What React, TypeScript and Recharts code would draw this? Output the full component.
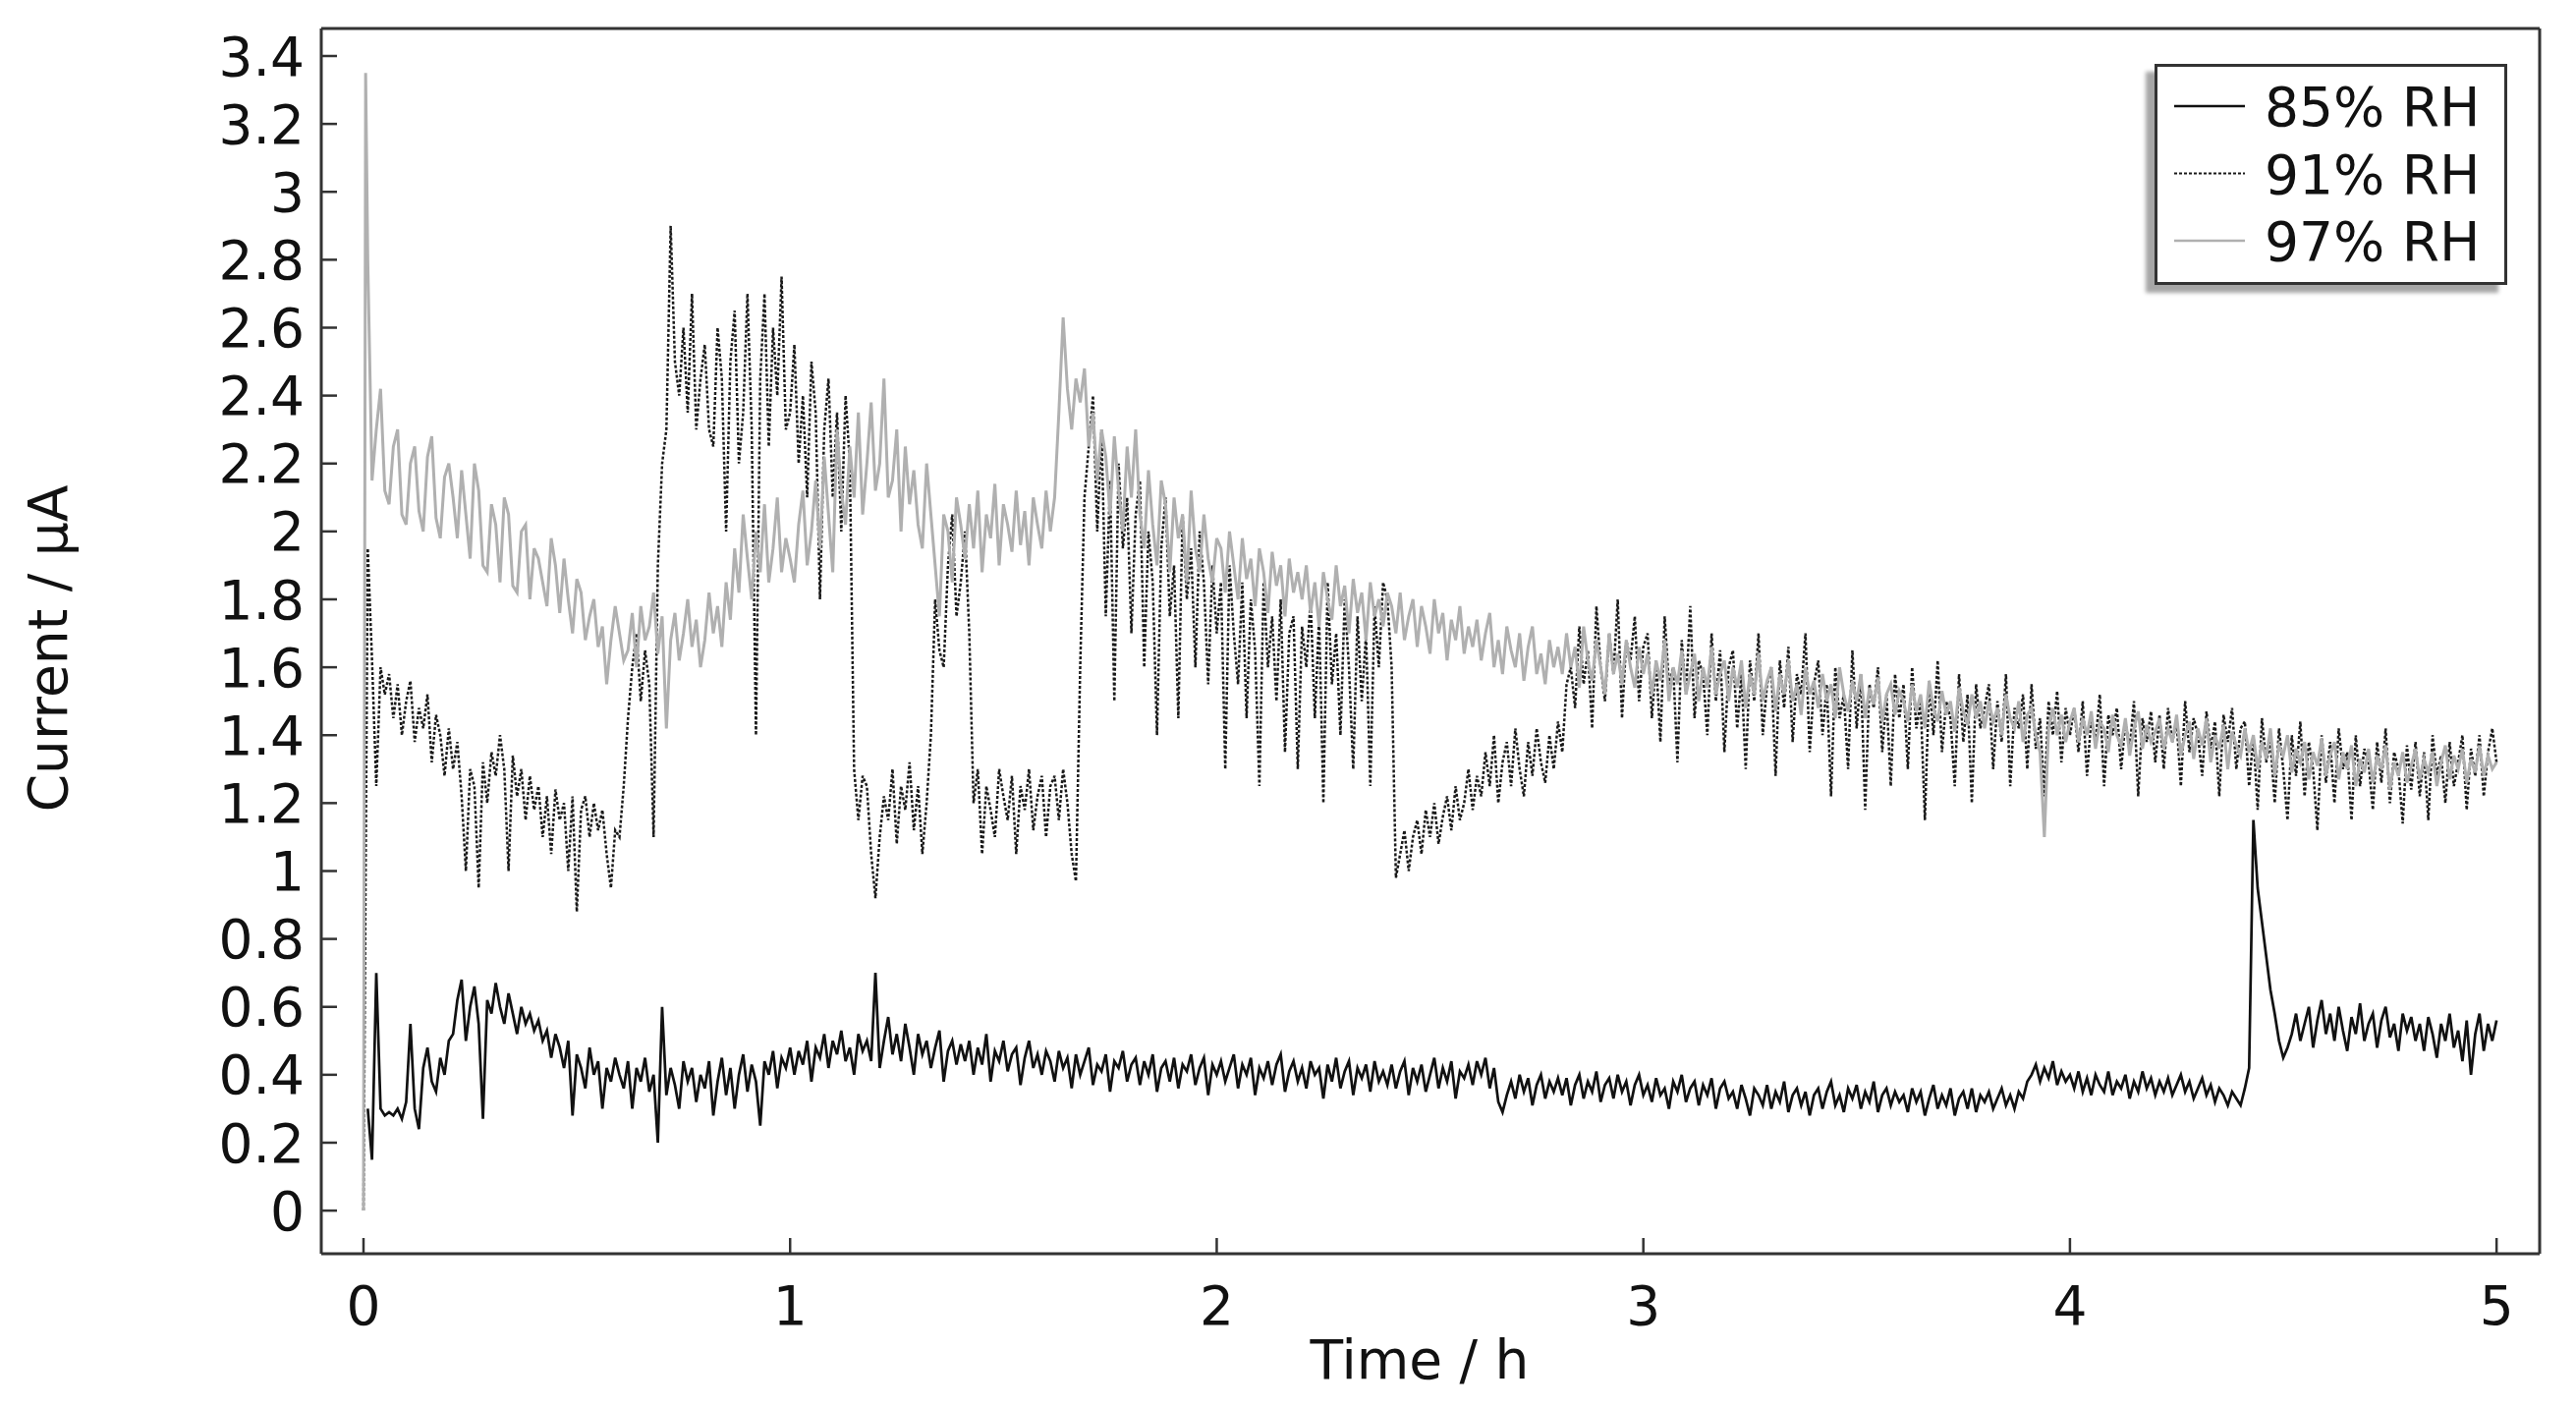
import React from 'react';
import { LineChart, Line, XAxis, YAxis, Legend } from 'recharts';

// sampling times in hours: the start-up spike, then one reading every 0.01 h
const startTimes = [0, 0.005];
const gridTimes = Array.from({ length: 500 }, (_, i) => Number(((i + 1) * 0.01).toFixed(2)));
const time = [...startTimes, ...gridTimes];

// current in µA, one row per 0.2 h (20 readings)
const rh85 = [
  null, null,
  0.3, 0.15, 0.7, 0.3, 0.28, 0.29, 0.28, 0.3, 0.27, 0.32, 0.55, 0.3, 0.24, 0.42, 0.48, 0.38, 0.35, 0.45, 0.4, 0.5,
  0.52, 0.62, 0.68, 0.5, 0.6, 0.66, 0.55, 0.27, 0.62, 0.58, 0.67, 0.6, 0.55, 0.64, 0.58, 0.52, 0.6, 0.55, 0.58, 0.53,
  0.56, 0.5, 0.53, 0.45, 0.52, 0.48, 0.42, 0.5, 0.28, 0.46, 0.42, 0.36, 0.48, 0.4, 0.44, 0.3, 0.42, 0.38, 0.45, 0.4,
  0.36, 0.44, 0.3, 0.42, 0.38, 0.45, 0.35, 0.4, 0.2, 0.6, 0.34, 0.42, 0.37, 0.3, 0.44, 0.38, 0.42, 0.32, 0.4, 0.36,
  0.44, 0.28, 0.38, 0.45, 0.34, 0.42, 0.3, 0.4, 0.46, 0.35, 0.43, 0.38, 0.25, 0.44, 0.4, 0.47, 0.36, 0.45, 0.42, 0.48,
  0.4, 0.47, 0.43, 0.5, 0.38, 0.48, 0.45, 0.52, 0.42, 0.5, 0.46, 0.53, 0.44, 0.48, 0.4, 0.52, 0.47, 0.5, 0.44, 0.7,
  0.42, 0.5, 0.57, 0.46, 0.52, 0.44, 0.55, 0.48, 0.4, 0.52, 0.46, 0.5, 0.42, 0.48, 0.53, 0.38, 0.47, 0.5, 0.43, 0.49,
  0.44, 0.5, 0.4, 0.48, 0.43, 0.52, 0.38, 0.47, 0.44, 0.5, 0.41, 0.46, 0.48, 0.37, 0.45, 0.5, 0.42, 0.46, 0.4, 0.47,
  0.44, 0.38, 0.47, 0.42, 0.45, 0.36, 0.46, 0.4, 0.44, 0.48, 0.37, 0.43, 0.41, 0.46, 0.35, 0.44, 0.42, 0.47, 0.38, 0.43,
  0.45, 0.37, 0.44, 0.4, 0.46, 0.35, 0.42, 0.44, 0.38, 0.45, 0.36, 0.43, 0.41, 0.46, 0.37, 0.42, 0.45, 0.34, 0.43, 0.4,
  0.44, 0.38, 0.42, 0.46, 0.36, 0.43, 0.4, 0.45, 0.34, 0.42, 0.39, 0.44, 0.37, 0.43, 0.46, 0.35, 0.41, 0.44, 0.38, 0.42,
  0.36, 0.44, 0.4, 0.42, 0.33, 0.43, 0.38, 0.45, 0.36, 0.41, 0.44, 0.34, 0.42, 0.39, 0.43, 0.35, 0.44, 0.38, 0.41, 0.37,
  0.43, 0.36, 0.41, 0.44, 0.34, 0.42, 0.38, 0.43, 0.35, 0.4, 0.45, 0.36, 0.42, 0.38, 0.44, 0.33, 0.41, 0.39, 0.43, 0.37,
  0.44, 0.4, 0.45, 0.36, 0.42, 0.32, 0.29, 0.34, 0.38, 0.33, 0.4, 0.35, 0.39, 0.31, 0.37, 0.4, 0.33, 0.38, 0.35, 0.39,
  0.34, 0.39, 0.31, 0.37, 0.4, 0.33, 0.38, 0.35, 0.41, 0.32, 0.37, 0.39, 0.33, 0.4, 0.35, 0.38, 0.31, 0.37, 0.4, 0.34,
  0.37, 0.32, 0.39, 0.34, 0.36, 0.3, 0.38, 0.35, 0.4, 0.32, 0.36, 0.38, 0.31, 0.37, 0.34, 0.39, 0.3, 0.36, 0.38, 0.33,
  0.35, 0.3, 0.37, 0.33, 0.28, 0.36, 0.34, 0.31, 0.37, 0.3, 0.35, 0.32, 0.38, 0.29, 0.34, 0.36, 0.31, 0.35, 0.28, 0.34,
  0.36, 0.3, 0.35, 0.38, 0.31, 0.34, 0.29, 0.36, 0.33, 0.37, 0.3, 0.35, 0.32, 0.38, 0.29, 0.34, 0.36, 0.31, 0.35, 0.32,
  0.34, 0.29, 0.36, 0.32, 0.35, 0.28, 0.33, 0.37, 0.3, 0.34, 0.31, 0.36, 0.28, 0.33, 0.35, 0.3, 0.36, 0.29, 0.34, 0.32,
  0.35, 0.3, 0.33, 0.36, 0.31, 0.34, 0.3, 0.35, 0.33, 0.38, 0.4, 0.43, 0.38, 0.42, 0.39, 0.44, 0.37, 0.41, 0.38, 0.4,
  0.36, 0.41, 0.35, 0.39, 0.34, 0.4, 0.37, 0.35, 0.41, 0.34, 0.38, 0.36, 0.4, 0.33, 0.38, 0.35, 0.41, 0.36, 0.39, 0.34,
  0.38, 0.35, 0.39, 0.34, 0.37, 0.4, 0.35, 0.38, 0.33, 0.36, 0.39, 0.34, 0.37, 0.32, 0.36, 0.34, 0.31, 0.35, 0.33, 0.31,
  0.36, 0.42, 1.15, 0.95, 0.85, 0.75, 0.65, 0.58, 0.5, 0.45, 0.48, 0.52, 0.58, 0.5, 0.55, 0.6, 0.48, 0.56, 0.62, 0.52,
  0.58, 0.5, 0.6, 0.53, 0.47, 0.57, 0.52, 0.61, 0.5, 0.55, 0.58, 0.48, 0.56, 0.6, 0.51, 0.55, 0.47, 0.58, 0.53, 0.57,
  0.5, 0.55, 0.47, 0.57, 0.52, 0.45, 0.55, 0.5, 0.58, 0.48, 0.53, 0.44, 0.56, 0.4, 0.52, 0.58, 0.47, 0.55, 0.5, 0.56,
];

const rh91 = [
  0, 1.0,
  1.95, 1.62, 1.25, 1.6, 1.52, 1.58, 1.45, 1.55, 1.4, 1.5, 1.56, 1.38, 1.48, 1.42, 1.52, 1.32, 1.46, 1.4, 1.28, 1.42,
  1.3, 1.38, 1.22, 1.0, 1.3, 1.25, 0.95, 1.32, 1.2, 1.35, 1.28, 1.4, 1.3, 1.0, 1.34, 1.22, 1.3, 1.15, 1.28, 1.18,
  1.25, 1.1, 1.22, 1.05, 1.24, 1.15, 1.2, 1.0, 1.22, 0.88, 1.18, 1.22, 1.1, 1.2, 1.12, 1.18, 1.05, 0.95, 1.12, 1.1,
  1.25, 1.45, 1.6, 1.7, 1.5, 1.65, 1.55, 1.1, 1.9, 2.2, 2.3, 2.9, 2.5, 2.4, 2.6, 2.35, 2.7, 2.3, 2.45, 2.55,
  2.3, 2.25, 2.6, 2.45, 2.0, 2.5, 2.65, 2.2, 2.35, 2.7, 2.3, 1.4, 2.45, 2.7, 2.25, 2.6, 2.4, 2.75, 2.3, 2.35,
  2.55, 2.2, 2.4, 2.1, 2.5, 2.35, 1.8, 2.3, 2.45, 2.1, 2.35, 2.0, 2.4, 2.2, 1.3, 1.15, 1.28, 1.25, 1.05, 0.92,
  1.1, 1.22, 1.15, 1.3, 1.08, 1.25, 1.18, 1.32, 1.12, 1.25, 1.05, 1.2, 1.4, 1.8, 1.65, 1.6, 1.9, 2.05, 1.75, 1.85,
  2.0, 1.7, 1.2, 1.3, 1.05, 1.25, 1.18, 1.1, 1.3, 1.22, 1.15, 1.28, 1.05, 1.25, 1.18, 1.3, 1.12, 1.22, 1.28, 1.1,
  1.25, 1.28, 1.15, 1.3, 1.2, 1.05, 0.97, 1.6, 2.1, 2.25, 2.4, 2.0, 2.3, 1.75, 2.15, 1.5, 2.2, 1.95, 2.1, 1.7,
  2.05, 2.15, 1.6, 2.0, 1.85, 1.4, 1.95, 2.1, 1.75, 1.9, 1.45, 2.05, 1.8, 1.95, 1.6, 2.0, 1.85, 1.55, 1.9, 1.7,
  1.85, 1.3, 1.9, 1.7, 1.55, 1.85, 1.45, 1.8, 1.65, 1.25, 1.85, 1.6, 1.75, 1.5, 1.8, 1.35, 1.7, 1.75, 1.3, 1.72,
  1.6, 1.8, 1.45, 1.75, 1.2, 1.85, 1.55, 1.7, 1.4, 1.8, 1.6, 1.3, 1.75, 1.5, 1.7, 1.25, 1.78, 1.6, 1.85, 1.8,
  1.6, 0.98, 1.05, 1.12, 1.0, 1.1, 1.15, 1.05, 1.18, 1.1, 1.2, 1.08, 1.16, 1.22, 1.12, 1.25, 1.15, 1.2, 1.3, 1.18,
  1.28, 1.22, 1.35, 1.25, 1.4, 1.2, 1.32, 1.38, 1.25, 1.42, 1.3, 1.22, 1.38, 1.28, 1.42, 1.32, 1.26, 1.4, 1.3, 1.44,
  1.35, 1.55, 1.6, 1.48, 1.72, 1.55, 1.65, 1.42, 1.78, 1.6, 1.5, 1.7, 1.58, 1.8, 1.45, 1.68, 1.62, 1.75, 1.5, 1.66,
  1.7, 1.45, 1.62, 1.38, 1.75, 1.55, 1.6, 1.32, 1.68, 1.52, 1.78, 1.45, 1.62, 1.58, 1.4, 1.7, 1.5, 1.65, 1.35, 1.6,
  1.65, 1.42, 1.58, 1.3, 1.62, 1.5, 1.7, 1.4, 1.55, 1.6, 1.28, 1.62, 1.48, 1.66, 1.38, 1.58, 1.52, 1.7, 1.35, 1.55,
  1.62, 1.4, 1.55, 1.22, 1.6, 1.45, 1.52, 1.3, 1.65, 1.42, 1.58, 1.18, 1.55, 1.48, 1.6, 1.35, 1.52, 1.25, 1.58, 1.45,
  1.55, 1.3, 1.6, 1.42, 1.5, 1.15, 1.56, 1.4, 1.62, 1.35, 1.5, 1.45, 1.25, 1.58, 1.38, 1.52, 1.2, 1.55, 1.42, 1.48,
  1.55, 1.3, 1.5, 1.38, 1.58, 1.25, 1.48, 1.42, 1.52, 1.3, 1.55, 1.36, 1.45, 1.22, 1.5, 1.4, 1.53, 1.32, 1.48, 1.4,
  1.48, 1.35, 1.5, 1.28, 1.45, 1.38, 1.52, 1.25, 1.46, 1.4, 1.48, 1.3, 1.44, 1.36, 1.5, 1.22, 1.45, 1.38, 1.47, 1.32,
  1.46, 1.3, 1.48, 1.38, 1.44, 1.25, 1.5, 1.35, 1.45, 1.4, 1.28, 1.47, 1.36, 1.44, 1.22, 1.46, 1.38, 1.48, 1.3, 1.42,
  1.44, 1.25, 1.4, 1.18, 1.45, 1.32, 1.38, 1.2, 1.42, 1.3, 1.15, 1.4, 1.28, 1.44, 1.22, 1.38, 1.3, 1.12, 1.4, 1.26,
  1.38, 1.2, 1.42, 1.3, 1.35, 1.15, 1.4, 1.25, 1.36, 1.32, 1.18, 1.38, 1.26, 1.42, 1.2, 1.35, 1.3, 1.14, 1.37, 1.24,
  1.38, 1.22, 1.35, 1.15, 1.4, 1.28, 1.34, 1.2, 1.38, 1.25, 1.32, 1.4, 1.18, 1.36, 1.28, 1.4, 1.22, 1.35, 1.42, 1.32,
];

const rh97 = [
  0, 3.35,
  2.8, 2.15, 2.3, 2.42, 2.12, 2.08, 2.25, 2.3, 2.05, 2.02, 2.2, 2.25, 2.06, 2.0, 2.22, 2.28, 2.04, 1.98, 2.16, 2.2,
  2.1, 1.98, 2.18, 2.05, 1.92, 2.2, 2.12, 1.9, 1.88, 2.08, 2.02, 1.85, 2.1, 2.05, 1.84, 1.82, 2.0, 2.02, 1.8, 1.95,
  1.92, 1.85, 1.78, 1.98, 1.9, 1.76, 1.92, 1.8, 1.7, 1.86, 1.82, 1.68, 1.75, 1.8, 1.66, 1.72, 1.55, 1.68, 1.78, 1.7,
  1.62, 1.65, 1.76, 1.6, 1.78, 1.68, 1.72, 1.82, 1.64, 1.75, 1.42, 1.68, 1.76, 1.62, 1.7, 1.8, 1.66, 1.74, 1.6, 1.68,
  1.82, 1.7, 1.78, 1.66, 1.85, 1.74, 1.95, 1.82, 2.05, 1.92, 1.8, 2.0, 1.88, 2.08, 1.85, 1.95, 2.1, 1.88, 1.98, 1.92,
  1.85, 2.02, 2.12, 1.9, 2.0, 2.15, 1.95, 2.22, 2.05, 1.88, 2.3, 2.12, 2.02, 2.25, 2.1, 2.35, 2.05, 2.2, 2.38, 2.12,
  2.2, 2.45, 2.1, 2.15, 2.3, 2.0, 2.25, 2.08, 2.18, 2.02, 1.95, 2.2, 2.05, 1.9, 1.75, 2.05, 2.0, 1.85, 2.1, 2.02,
  1.92, 2.08, 1.95, 2.12, 1.88, 2.05, 1.98, 2.14, 1.9, 2.08, 2.02, 1.94, 2.12, 1.96, 2.06, 1.9, 2.1, 2.02, 1.95, 2.12,
  2.0, 2.1, 2.35, 2.63, 2.42, 2.3, 2.45, 2.38, 2.48, 2.25, 2.35, 2.15, 2.3, 2.22, 2.05, 2.28, 2.12, 2.0, 2.25, 2.1,
  2.3, 2.05, 1.95, 2.18, 2.02, 1.9, 2.15, 2.08, 1.88, 2.1, 1.98, 2.05, 1.85, 2.12, 1.95, 1.88, 2.05, 1.92, 1.85, 1.98,
  1.95, 1.82, 2.0, 1.9, 1.8, 1.98, 1.86, 1.92, 1.78, 1.95, 1.88, 1.76, 1.94, 1.84, 1.9, 1.75, 1.92, 1.82, 1.88, 1.8,
  1.9, 1.76, 1.85, 1.72, 1.88, 1.8, 1.74, 1.9, 1.78, 1.84, 1.7, 1.86, 1.76, 1.82, 1.68, 1.85, 1.75, 1.8, 1.72, 1.82,
  1.78, 1.7, 1.82, 1.68, 1.75, 1.8, 1.66, 1.78, 1.72, 1.64, 1.8, 1.7, 1.76, 1.62, 1.74, 1.68, 1.78, 1.64, 1.72, 1.66,
  1.74, 1.62, 1.7, 1.76, 1.6, 1.68, 1.58, 1.72, 1.65, 1.6, 1.7, 1.56, 1.66, 1.72, 1.58, 1.64, 1.55, 1.68, 1.6, 1.66,
  1.58, 1.7, 1.6, 1.66, 1.54, 1.72, 1.62, 1.56, 1.68, 1.6, 1.52, 1.7, 1.58, 1.64, 1.55, 1.68, 1.6, 1.54, 1.66, 1.58,
  1.64, 1.52, 1.62, 1.56, 1.68, 1.5, 1.6, 1.55, 1.65, 1.52, 1.58, 1.64, 1.5, 1.6, 1.54, 1.66, 1.52, 1.58, 1.62, 1.5,
  1.6, 1.54, 1.62, 1.48, 1.58, 1.52, 1.64, 1.5, 1.56, 1.6, 1.47, 1.58, 1.52, 1.62, 1.5, 1.55, 1.46, 1.6, 1.52, 1.56,
  1.48, 1.58, 1.5, 1.55, 1.45, 1.6, 1.52, 1.47, 1.56, 1.5, 1.58, 1.45, 1.54, 1.49, 1.57, 1.44, 1.52, 1.55, 1.46, 1.53,
  1.5, 1.44, 1.55, 1.47, 1.52, 1.42, 1.56, 1.48, 1.44, 1.53, 1.46, 1.5, 1.41, 1.54, 1.47, 1.43, 1.52, 1.45, 1.5, 1.42,
  1.5, 1.44, 1.48, 1.4, 1.52, 1.45, 1.42, 1.5, 1.38, 1.46, 1.48, 1.4, 1.35, 1.1, 1.42, 1.48, 1.4, 1.46, 1.38, 1.44,
  1.48, 1.38, 1.45, 1.4, 1.47, 1.36, 1.44, 1.42, 1.35, 1.46, 1.4, 1.37, 1.45, 1.34, 1.42, 1.47, 1.36, 1.43, 1.38, 1.41,
  1.45, 1.36, 1.42, 1.38, 1.46, 1.34, 1.4, 1.44, 1.33, 1.42, 1.37, 1.45, 1.32, 1.4, 1.36, 1.43, 1.3, 1.41, 1.37, 1.34,
  1.42, 1.35, 1.4, 1.3, 1.38, 1.33, 1.42, 1.28, 1.37, 1.34, 1.4, 1.29, 1.36, 1.32, 1.38, 1.27, 1.35, 1.31, 1.39, 1.28,
  1.34, 1.38, 1.27, 1.35, 1.3, 1.37, 1.25, 1.33, 1.29, 1.36, 1.26, 1.34, 1.3, 1.37, 1.24, 1.32, 1.28, 1.35, 1.26, 1.31,
  1.36, 1.27, 1.33, 1.29, 1.35, 1.25, 1.32, 1.37, 1.27, 1.34, 1.3, 1.36, 1.26, 1.33, 1.29, 1.37, 1.28, 1.34, 1.3, 1.32,
];

const xTicks = [0, 1, 2, 3, 4, 5];
const yTicks = [0, 0.2, 0.4, 0.6, 0.8, 1, 1.2, 1.4, 1.6, 1.8, 2, 2.2, 2.4, 2.6, 2.8, 3, 3.2, 3.4];

// the 97% trace also carries the top / right frame axes (same scales)
const series = [
  { key: 'rh85', name: '85% RH', color: '#111111', width: 2.7, dash: undefined as string | undefined, xId: 0 as any, yId: 0 as any },
  { key: 'rh91', name: '91% RH', color: '#1a1a1a', width: 2.5, dash: '3 2', xId: 0 as any, yId: 0 as any },
  { key: 'rh97', name: '97% RH', color: '#b0b0b0', width: 3, dash: undefined as string | undefined, xId: 'top', yId: 'right' },
];

const data = time.map((t, i) => ({ t, rh85: rh85[i], rh91: rh91[i], rh97: rh97[i] }));

const X_DOMAIN = [-0.099, 5.101];
const Y_DOMAIN = [-0.127, 3.481];
const FONT = '"DejaVu Sans", Verdana, sans-serif';
const frame = { stroke: '#333', strokeWidth: 3 };
const tickStroke = { stroke: '#333', strokeWidth: 2.5 };
const tickText = { fontSize: 55, fill: '#111', fontFamily: FONT };

const renderLegend = (props: any) => {
  const payload = props.payload || [];
  return (
    <div
      style={{
        width: 359,
        height: 225,
        boxSizing: 'border-box',
        border: '3px solid #333',
        background: '#fff',
        boxShadow: '-9px 8px 4px rgba(0,0,0,0.35)',
      }}
    >
      <svg width={353} height={219} style={{ display: 'block' }}>
        {payload.map((entry: any, i: number) => {
          const s = series.find((d) => d.key === entry.dataKey) || series[i];
          const cy = 40 + i * 68.5;
          return (
            <g key={s.key}>
              <line x1={17} x2={89} y1={cy} y2={cy} stroke={s.color} strokeWidth={s.width - 0.4} strokeDasharray={s.dash} />
              <text x={109} y={cy + 20} fontSize={55} fontFamily={FONT} fill="#111">
                {s.name}
              </text>
            </g>
          );
        })}
      </svg>
    </div>
  );
};

export default function App() {
  return (
    <div style={{ position: 'absolute', left: 0, top: 0, width: 2622, height: 1433, background: '#fff' }}>
      <LineChart
        width={2622}
        height={1433}
        data={data}
        margin={{ top: 28, right: 36, bottom: 17, left: 127 }}
      >
        <XAxis
          dataKey="t"
          type="number"
          domain={X_DOMAIN}
          ticks={xTicks}
          interval={0}
          allowDataOverflow
          height={140}
          axisLine={frame}
          tickLine={tickStroke}
          tickSize={-16}
          tickMargin={49}
          tick={tickText}
        />
        <XAxis
          xAxisId="top"
          orientation="top"
          dataKey="t"
          type="number"
          domain={X_DOMAIN}
          ticks={xTicks}
          interval={0}
          allowDataOverflow
          height={1}
          axisLine={frame}
          tickLine={tickStroke}
          tickSize={-16}
          tick={false}
        />
        <YAxis
          type="number"
          domain={Y_DOMAIN}
          ticks={yTicks}
          interval={0}
          allowDataOverflow
          width={200}
          axisLine={frame}
          tickLine={tickStroke}
          tickSize={-16}
          tickMargin={33}
          tick={tickText}
        />
        <YAxis
          yAxisId="right"
          orientation="right"
          type="number"
          domain={Y_DOMAIN}
          ticks={yTicks}
          interval={0}
          allowDataOverflow
          width={1}
          axisLine={frame}
          tickLine={tickStroke}
          tickSize={-16}
          tick={false}
        />
        <Legend
          layout="vertical"
          align="center"
          verticalAlign="middle"
          wrapperStyle={{ left: 2193, top: 65, width: 359, height: 225 }}
          content={renderLegend}
        />
        {series.map((s) => (
          <Line
            key={s.key}
            xAxisId={s.xId}
            yAxisId={s.yId}
            type="linear"
            dataKey={s.key}
            name={s.name}
            stroke={s.color}
            strokeWidth={s.width}
            strokeDasharray={s.dash}
            dot={false}
            activeDot={false}
            isAnimationActive={false}
          />
        ))}
        <text x={1445} y={1403} textAnchor="middle" fontSize={55} fontFamily={FONT} fill="#111">
          Time / h
        </text>
        <text
          x={68}
          y={660}
          textAnchor="middle"
          fontSize={55}
          fontFamily={FONT}
          fill="#111"
          transform="rotate(-90, 68, 660)"
        >
          Current / µA
        </text>
      </LineChart>
    </div>
  );
}
